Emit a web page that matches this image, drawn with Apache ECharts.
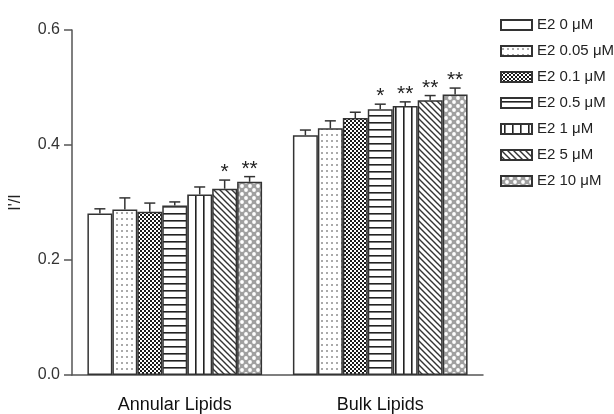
<!DOCTYPE html>
<html>
<head>
<meta charset="utf-8">
<script src="https://cdn.jsdelivr.net/npm/echarts@6/dist/echarts.min.js"></script>
<style>
html,body{margin:0;padding:0;background:#fff;}
#chart{width:614px;height:414px;}
</style>
</head>
<body>
<div id="chart"></div>
<script>
// ---- data ----
const categories = ['Annular Lipids', 'Bulk Lipids'];
const seriesNames = ['E2 0 μM', 'E2 0.05 μM', 'E2 0.1 μM', 'E2 0.5 μM', 'E2 1 μM', 'E2 5 μM', 'E2 10 μM'];
const annularMean = [0.281, 0.288, 0.284, 0.295, 0.314, 0.324, 0.336];
const annularErr  = [0.008, 0.020, 0.015, 0.006, 0.013, 0.015, 0.009];
const bulkMean    = [0.417, 0.429, 0.447, 0.462, 0.468, 0.478, 0.488];
const bulkErr     = [0.009, 0.013, 0.010, 0.009, 0.007, 0.008, 0.011];
const annularStars = ['', '', '', '', '', '*', '**'];
const bulkStars    = ['', '', '', '*', '**', '**', '**'];
const yTicks = [0.0, 0.2, 0.4, 0.6];

// ---- patterns ----
function makePattern(w, h, draw) {
  const c = document.createElement('canvas');
  c.width = w; c.height = h;
  const ctx = c.getContext('2d');
  ctx.fillStyle = '#fff';
  ctx.fillRect(0, 0, w, h);
  draw(ctx, w, h);
  return { image: c, repeat: 'repeat' };
}
const patterns = [
  '#ffffff',
  makePattern(5, 6, (ctx) => { ctx.fillStyle = '#aaa'; ctx.fillRect(1, 2, 2, 2); }),
  makePattern(4, 4, (ctx) => {
    ctx.fillStyle = '#1a1a1a'; ctx.fillRect(0, 0, 4, 4);
    ctx.fillStyle = '#fff'; ctx.fillRect(0, 0, 2, 2); ctx.fillRect(2, 2, 2, 2);
  }),
  makePattern(4, 7, (ctx) => { ctx.fillStyle = '#222'; ctx.fillRect(0, 3, 4, 1.6); }),
  makePattern(8, 4, (ctx) => { ctx.fillStyle = '#222'; ctx.fillRect(3, 0, 1.6, 4); }),
  makePattern(6, 6, (ctx) => {
    ctx.strokeStyle = '#333'; ctx.lineWidth = 1.4;
    ctx.beginPath();
    ctx.moveTo(-1, -1); ctx.lineTo(7, 7);
    ctx.moveTo(-4, 2); ctx.lineTo(2, 8);
    ctx.moveTo(2, -4); ctx.lineTo(8, 2);
    ctx.stroke();
  }),
  makePattern(8, 8, (ctx) => {
    ctx.fillStyle = '#a0a0a0'; ctx.fillRect(0, 0, 8, 8);
    ctx.fillStyle = '#fff';
    ctx.beginPath(); ctx.arc(2, 2, 1.9, 0, Math.PI * 2); ctx.fill();
    ctx.beginPath(); ctx.arc(6, 6, 1.9, 0, Math.PI * 2); ctx.fill();
  })
];

// ---- series ----
const barSeries = seriesNames.map((name, i) => ({
  name: name,
  type: 'bar',
  barGap: '0%',
  barCategoryGap: '15%',
  data: [annularMean[i], bulkMean[i]],
  itemStyle: { color: patterns[i], borderColor: '#333', borderWidth: 1.5 },
  emphasis: { disabled: true },
  z: 2
}));

const errData = [];
const errStars = [];
seriesNames.forEach((n, i) => {
  errData.push([0, annularMean[i] + annularErr[i], annularMean[i], i]);
  errStars.push(annularStars[i]);
  errData.push([1, bulkMean[i] + bulkErr[i], bulkMean[i], i]);
  errStars.push(bulkStars[i]);
});

const errSeries = {
  type: 'custom',
  name: 'err',
  z: 3,
  data: errData,
  encode: { x: 0, y: 1 },
  renderItem: function (params, api) {
    const cat = api.value(0), top = api.value(1), val = api.value(2), s = api.value(3);
    const p = api.coord([cat, top]);
    const b = api.coord([cat, val]);
    const w = api.size([1, 0])[0];
    const bw = w * 0.85 / 7;
    const x = p[0] + (s - 3) * bw;
    const st = { stroke: '#333', lineWidth: 1.5 };
    const children = [
      { type: 'line', shape: { x1: x, y1: b[1], x2: x, y2: p[1] }, style: st },
      { type: 'line', shape: { x1: x - 5.5, y1: p[1], x2: x + 5.5, y2: p[1] }, style: st }
    ];
    const star = errStars[params.dataIndex];
    if (star) {
      children.push({
        type: 'text',
        style: { x: x, y: p[1] - 7.5, text: star, fill: '#222', font: '21px "Liberation Sans", Arial, sans-serif', align: 'center', verticalAlign: 'middle' }
      });
    }
    return { type: 'group', children: children };
  }
};

const chart = echarts.init(document.getElementById('chart'), null, { renderer: 'canvas' });
chart.setOption({
  animation: false,
  backgroundColor: '#fff',
  textStyle: { fontFamily: '"Liberation Sans", Arial, sans-serif' },
  grid: { left: 72, right: 131, top: 30, bottom: 39, containLabel: false, outerBoundsMode: 'none' },
  legend: {
    data: seriesNames,
    orient: 'vertical',
    left: 495,
    top: 12,
    icon: 'rect',
    itemWidth: 31,
    itemHeight: 10,
    itemGap: 10,
    selectedMode: false,
    textStyle: { fontSize: 15, color: '#222', lineHeight: 16 }
  },
  xAxis: {
    type: 'category',
    data: categories,
    axisLine: { lineStyle: { color: '#555', width: 1.5 } },
    axisTick: { alignWithLabel: true, length: 9, lineStyle: { color: '#555', width: 1.5 } },
    axisLabel: { fontSize: 18, color: '#111', margin: 21 }
  },
  yAxis: {
    type: 'value',
    min: yTicks[0],
    max: yTicks[yTicks.length - 1],
    interval: 0.2,
    name: "I'/I",
    nameLocation: 'middle',
    nameGap: 48,
    nameTextStyle: { fontSize: 16, color: '#222' },
    axisLine: { show: true, lineStyle: { color: '#555', width: 1.5 } },
    axisTick: { show: true, length: 8, lineStyle: { color: '#555', width: 1.5 } },
    splitLine: { show: false },
    axisLabel: { fontSize: 16, color: '#333', margin: 12, formatter: (v) => v.toFixed(1) }
  },
  series: barSeries.concat([errSeries])
});
</script>
</body>
</html>
